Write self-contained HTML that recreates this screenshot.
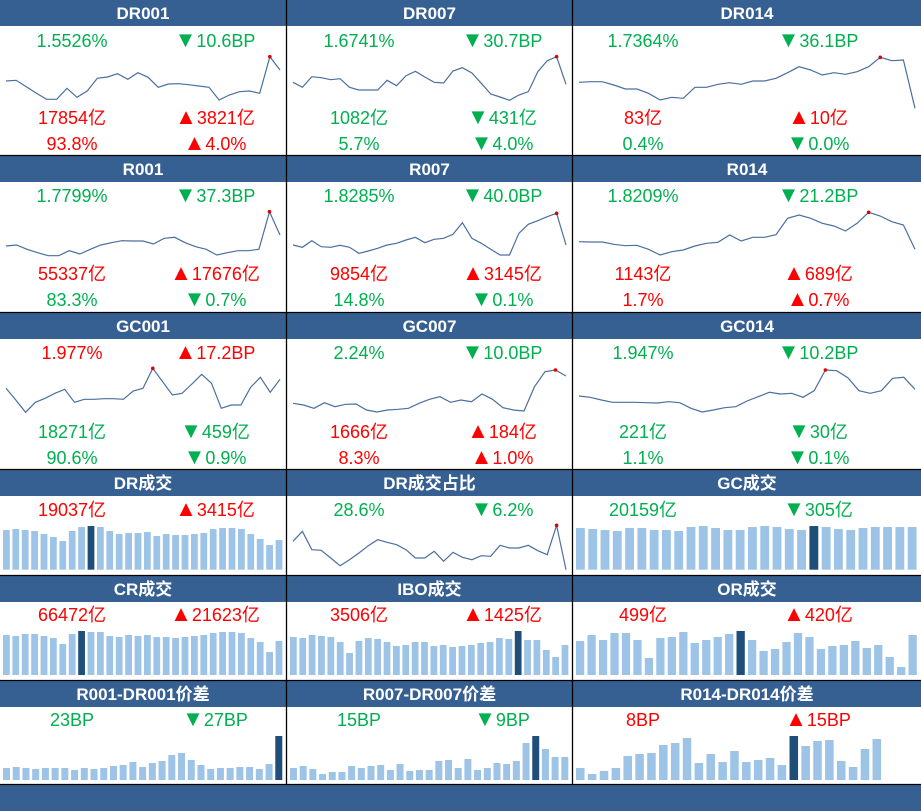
<!DOCTYPE html>
<html><head><meta charset="utf-8"><style>
html,body{margin:0;padding:0;background:#fff;}
svg{display:block;font-family:"Liberation Sans","Noto Sans CJK SC",sans-serif;}
</style></head><body>
<svg id="dash" width="921" height="811" viewBox="0 0 921 811" xmlns="http://www.w3.org/2000/svg"></svg>
<script>
// ---- data (line series: relative level index; bars: relative volume index) ----
const dr001 = [92,94,75,55,37,37,70,43,62,100,104,114,97,117,103,73,83,84,81,77,73,35,50,60,62,55,165,125];
const dr007 = [88,73,105,102,96,99,73,65,65,65,94,78,108,121,104,88,86,122,132,116,85,53,44,34,50,60,120,153,165,82];
const dr014 = [88,90,90,80,68,68,55,35,43,40,73,73,82,87,82,92,92,100,117,135,125,110,117,112,120,135,163,153,155,10];
const r001 = [62,65,52,42,33,33,48,38,52,65,72,78,77,77,68,85,88,72,60,52,35,42,48,48,52,165,95];
const r007 = [65,58,78,60,58,64,58,40,47,55,65,70,80,88,72,82,85,97,132,85,70,52,35,35,100,127,138,150,160,65];
const r014 = [75,74,74,67,63,64,52,35,45,50,62,70,73,95,77,88,88,96,145,155,145,130,122,107,130,163,152,135,125,52];
const gc001 = [115,80,43,73,85,100,112,73,82,82,84,84,82,107,115,175,135,95,100,128,157,130,55,65,65,118,148,103,142];
const gc007 = [70,65,55,72,60,67,68,50,44,50,52,55,70,82,90,73,80,75,98,82,57,50,47,120,165,170,152];
const gc014 = [92,88,80,73,73,73,72,71,75,72,55,44,50,57,60,77,90,103,98,100,88,108,170,168,147,108,100,108,145,148,112];
const drShare = [130,160,105,103,80,57,75,95,117,135,127,120,105,80,80,100,70,97,82,75,87,85,118,110,110,118,102,90,178,45];
const drVol = [119,122,119,116,107,98,86,116,128,131,128,116,107,110,110,113,101,107,104,104,107,110,122,125,125,122,107,92,74,89];
const gcVol = [125,122,119,116,125,125,119,119,116,128,131,125,119,119,128,131,128,122,119,131,128,122,119,125,128,128,128,128];
const crVol = [120,117,123,123,117,111,93,123,132,129,129,117,114,120,117,120,114,114,111,114,117,120,126,129,129,126,111,99,69,102];
const iboVol = [114,111,120,117,114,99,66,102,111,108,99,87,90,99,99,87,90,84,87,90,96,99,111,108,132,105,105,75,54,90];
const orVol = [102,120,105,126,126,105,51,111,114,129,96,105,114,123,132,105,72,78,99,126,114,78,87,90,102,81,90,54,24,120];
const spr1 = [36,39,36,33,36,36,36,30,36,33,36,42,45,54,39,51,57,75,81,60,45,33,36,36,39,39,33,48,132];
const spr7 = [36,42,33,18,24,24,42,36,42,45,30,48,27,30,30,57,60,36,63,30,36,51,48,57,111,132,93,69,69];
const spr14 = [36,18,27,36,72,78,81,105,111,126,51,78,54,87,54,60,66,45,132,102,117,120,57,39,93,123];

// ---- panels: titles and printed values ----
const titles = ["DR001","DR007","DR014","R001","R007","R014","GC001","GC007","GC014",
  "DR成交","DR成交占比","GC成交","CR成交","IBO成交","OR成交","R001-DR001价差","R007-DR007价差","R014-DR014价差"];
const labels = [
 [["1.5526%","g"],["▼10.6BP","g"],["17854亿","r"],["▲3821亿","r"],["93.8%","r"],["▲4.0%","r"]],
 [["1.6741%","g"],["▼30.7BP","g"],["1082亿","g"],["▼431亿","g"],["5.7%","g"],["▼4.0%","g"]],
 [["1.7364%","g"],["▼36.1BP","g"],["83亿","r"],["▲10亿","r"],["0.4%","g"],["▼0.0%","g"]],
 [["1.7799%","g"],["▼37.3BP","g"],["55337亿","r"],["▲17676亿","r"],["83.3%","g"],["▼0.7%","g"]],
 [["1.8285%","g"],["▼40.0BP","g"],["9854亿","r"],["▲3145亿","r"],["14.8%","g"],["▼0.1%","g"]],
 [["1.8209%","g"],["▼21.2BP","g"],["1143亿","r"],["▲689亿","r"],["1.7%","r"],["▲0.7%","r"]],
 [["1.977%","r"],["▲17.2BP","r"],["18271亿","g"],["▼459亿","g"],["90.6%","g"],["▼0.9%","g"]],
 [["2.24%","g"],["▼10.0BP","g"],["1666亿","r"],["▲184亿","r"],["8.3%","r"],["▲1.0%","r"]],
 [["1.947%","g"],["▼10.2BP","g"],["221亿","g"],["▼30亿","g"],["1.1%","g"],["▼0.1%","g"]],
 [["19037亿","r"],["▲3415亿","r"]],
 [["28.6%","g"],["▼6.2%","g"]],
 [["20159亿","g"],["▼305亿","g"]],
 [["66472亿","r"],["▲21623亿","r"]],
 [["3506亿","r"],["▲1425亿","r"]],
 [["499亿","r"],["▲420亿","r"]],
 [["23BP","g"],["▼27BP","g"]],
 [["15BP","g"],["▼9BP","g"]],
 [["8BP","r"],["▲15BP","r"]]
];
const lineSeries = [dr001,dr007,dr014,r001,r007,r014,gc001,gc007,gc014];
const barSeries = {9:[drVol,30,9],11:[gcVol,28,19],12:[crVol,30,8],13:[iboVol,30,24],14:[orVol,30,14],15:[spr1,29,28],16:[spr7,29,25],17:[spr14,29,18]};

const svg = document.getElementById('dash');
const NS = "http://www.w3.org/2000/svg";
function mk(tag, attrs, parent){const e=document.createElementNS(NS,tag);for(const k in attrs)e.setAttribute(k,attrs[k]);(parent||svg).appendChild(e);return e;}
const colX = [0,287,573], colW = [286,285,348];
const rowTop = [0,156,313,470,576,681];
const textRows = [[41,118,144],[196,274,300],[353,432,458],[510],[615],[720]];
const lineOrigin = [45,200,360,518];
const barBottom = {3:569.7,4:675,5:780};
const COL = {g:"#00b050", r:"#ff0000"};

const ft = mk('rect',{x:0,y:785,width:921,height:26,fill:"#376092"});



for(let p=0;p<18;p++){
  const r=Math.floor(p/3), c=p%3, x0=colX[c], w=colW[c], top=rowTop[r];
  const hd = mk('rect',{x:x0,y:top,width:(c==2?921-x0:w),height:26,fill:"#376092"});
  
  
  const tt = mk('text',{x:x0+w/2,y:top+19,'text-anchor':'middle','font-size':17,'font-weight':'bold',fill:'#fff'});
  tt.textContent = titles[p];
  
  
  const offs = c==2 ? [70,245] : [72,215];
  labels[p].forEach((lb,i)=>{
    const t = mk('text',{x:x0+offs[i%2],y:textRows[r][Math.floor(i/2)]+6,'text-anchor':'middle','font-size':18,fill:COL[lb[1]]});
    
    
    let s = lb[0];
    if(s[0]=='▲'||s[0]=='▼'){
      const tri = mk('tspan',{'font-size':22},t);
      tri.textContent = s[0];
      s = s.slice(1);
    }
    const rest = mk('tspan',{},t);
    rest.textContent = s;
  });
  let ser = null, oy = 0;
  if(p<9){ser=lineSeries[p]; oy=lineOrigin[r];}
  if(p==10){ser=drShare; oy=lineOrigin[3];}
  if(ser){
    const n=ser.length, xs=i=>x0+6+i*(w-12)/(n-1), ys=v=>oy+(200-v)/3;
    const pts = ser.map((v,i)=>xs(i).toFixed(1)+","+ys(v).toFixed(1)).join(" ");
    const pl = mk('polyline',{points:pts,fill:'none',stroke:'#4a6fa0','stroke-width':1.2});
    
    
    let mi=0; ser.forEach((v,i)=>{if(v>ser[mi])mi=i;});
    const dot = mk('circle',{cx:xs(mi),cy:ys(ser[mi]),r:1.8,fill:'#e00000'});
    
    
  }
  if(barSeries[p]){
    const [vals,slots,hi]=barSeries[p], step=(w-4)/slots, bw=step*0.72, bot=barBottom[r];
    vals.forEach((v,i)=>{
      const b = mk('rect',{x:x0+3+i*step,y:bot-v/3,width:bw,height:v/3,fill:i==hi?'#1f4e79':'#9dc3e6'});
      
      
    });
  }
}
[155,312,469,575,680,784].forEach(y=>{
  const l=mk('line',{x1:0,x2:921,y1:y+0.5,y2:y+0.5,stroke:'#000','stroke-width':1.3});
  
  
});
[286,572].forEach(x=>{
  const l=mk('line',{x1:x+0.5,x2:x+0.5,y1:0,y2:784,stroke:'#000','stroke-width':1.3});
  
  
});
</script>
</body></html>
